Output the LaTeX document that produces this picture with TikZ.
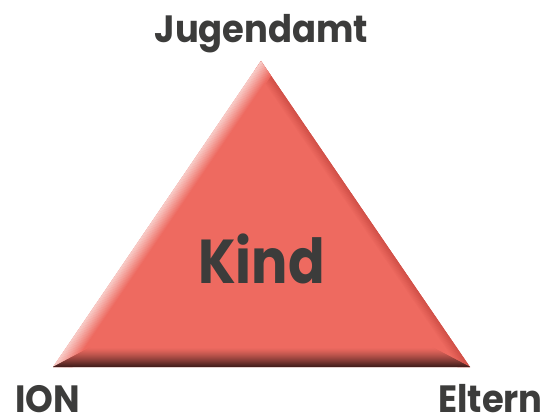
\documentclass[tikz,border=0pt]{standalone}
\usepackage{fontspec}
\setmainfont{Poppins}
\newfontfamily\lblfont[FakeStretch=0.93]{Poppins}
\newfontfamily\bigfont[FakeStretch=0.87]{Poppins}
\usetikzlibrary{calc}
\definecolor{tri}{HTML}{EE6A60}
\definecolor{trilight}{HTML}{F9D2CE}
\definecolor{tridark}{HTML}{3A1A18}
\definecolor{triright}{HTML}{CF4E46}
\definecolor{txt}{HTML}{3C3C3B}
\begin{document}
\begin{tikzpicture}[x=1pt,y=1pt,
  lbl/.style={text=txt,font=\lblfont\bfseries\fontsize{38}{38}\selectfont,inner sep=0pt},
  big/.style={text=txt,font=\bigfont\bfseries\fontsize{62}{62}\selectfont,inner sep=0pt}]
\useasboundingbox (0,0) rectangle (546,-417);
\coordinate (A) at (53,-367);
\coordinate (B) at (261,-61);
\coordinate (C) at (470,-367);
\fill[tri] (A) -- (B) -- (C) -- cycle;
\begin{scope}
  \clip (A) -- (B) -- (C) -- cycle;
  % right edge, darker
  \foreach \i in {0,...,10}{
    \pgfmathsetmacro{\p}{100-\i*10}
    \draw[triright!\p!tri, line width=1.3pt]
      ($(C)+(\i*-0.827,\i*-0.565)+(-2*209,2*306)$) -- ($(C)+(\i*-0.827,\i*-0.565)+(2*209,-2*306)$);
  }
  % left edge, light
  \foreach \i in {0,...,16}{
    \pgfmathsetmacro{\p}{100-\i*6.25}
    \draw[trilight!\p!tri, line width=1.3pt]
      ($(A)+(\i*0.827,\i*-0.562)+(-2*208,-2*306)$) -- ($(A)+(\i*0.827,\i*-0.562)+(2*208,2*306)$);
  }
  % bottom edge, dark (mitred at the corners)
  \begin{scope}
    \clip (A) -- ++(88.4,46.8) -- ($(C)+(-88.5,46.6)$) -- (C) -- cycle;
    \foreach \i in {0,...,20}{
      \pgfmathsetmacro{\p}{100*(1-\i/20)^1.3}
      \draw[tridark!\p!tri, line width=1.3pt] (0,-367+\i) -- (546,-367+\i);
    }
  \end{scope}
\end{scope}
\node[lbl,anchor=base] (jug) at (261.5,-43) {Jugendamt};
\node[big,anchor=base] (kind) at (261.5,-283) {Kind};
\node[lbl,anchor=base west] (ion) at (15,-412) {ION};
\node[lbl,anchor=base east] (elt) at (543,-412) {Eltern};
\end{tikzpicture}
\end{document}
